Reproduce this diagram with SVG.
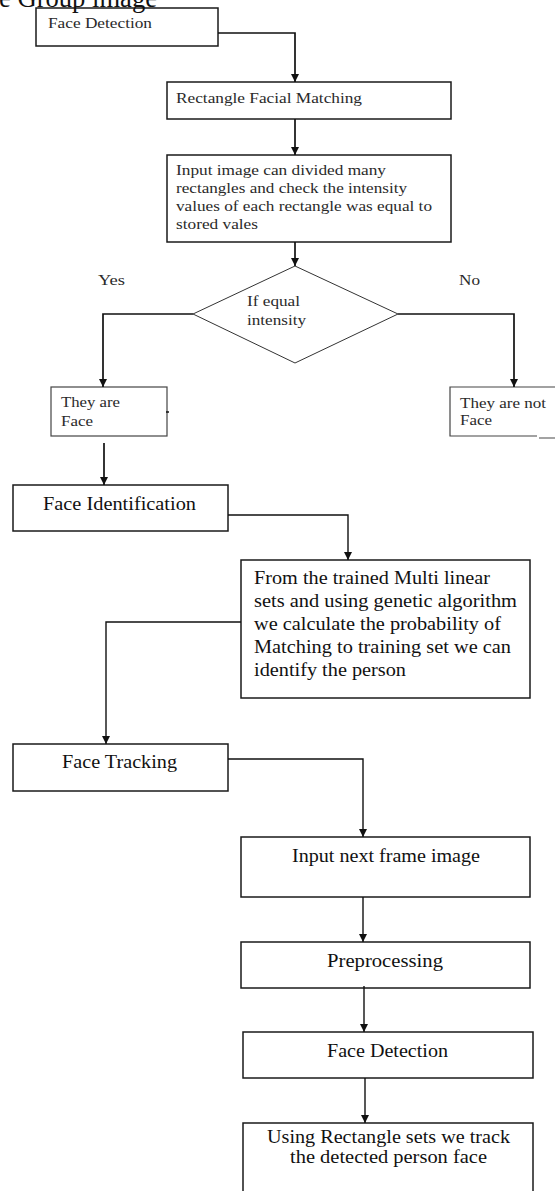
<svg xmlns="http://www.w3.org/2000/svg" width="555" height="1191" viewBox="0 0 555 1191">
<style>
.box{fill:#fff;stroke:#1a1a1a;stroke-width:1.5}
.dia{fill:#fff;stroke:#333;stroke-width:1}
.t{font-family:"Liberation Serif","Times New Roman",serif;fill:#111}
.s{font-size:14px;fill:#2a2a2a}
.m{font-size:19px}
.conn{fill:none;stroke:#111;stroke-width:1.7}
</style>
<defs>
<marker id="ah" markerUnits="userSpaceOnUse" markerWidth="8" markerHeight="8" refX="8" refY="4" orient="auto">
<path d="M0,0 L8,4 L0,8 z" fill="#111"/>
</marker>
</defs>
<rect width="555" height="1191" fill="#fff"/>

<g id="n-facedetect1">
<rect class="box" x="36" y="8" width="182" height="38"/>
<text class="t s" x="48" y="28" textLength="104" lengthAdjust="spacingAndGlyphs">Face Detection</text>
</g>
<text id="title" class="t" x="-1" y="7" font-size="28" textLength="158" lengthAdjust="spacingAndGlyphs">e Group image</text>

<g id="n-rectmatch">
<rect class="box" x="167" y="82" width="284" height="37"/>
<text class="t s" x="176" y="103" textLength="186" lengthAdjust="spacingAndGlyphs">Rectangle Facial Matching</text>
</g>

<g id="n-input">
<rect class="box" x="167" y="155" width="284" height="87"/>
<text class="t s" x="176" y="175" textLength="210" lengthAdjust="spacingAndGlyphs">Input image can divided many</text>
<text class="t s" x="176" y="193" textLength="231" lengthAdjust="spacingAndGlyphs">rectangles and check the intensity</text>
<text class="t s" x="176" y="211" textLength="256" lengthAdjust="spacingAndGlyphs">values of each rectangle was equal to</text>
<text class="t s" x="176" y="229" textLength="82" lengthAdjust="spacingAndGlyphs">stored vales</text>
</g>

<g id="n-decision">
<polygon class="dia" points="295,266 398,314 295,363 193,314"/>
<text class="t s" x="247" y="306" font-size="13" textLength="53" lengthAdjust="spacingAndGlyphs">If equal</text>
<text class="t s" x="247" y="325" font-size="13" textLength="59" lengthAdjust="spacingAndGlyphs">intensity</text>
</g>

<g id="labels">
<text class="t s" x="98" y="285" textLength="27" lengthAdjust="spacingAndGlyphs">Yes</text>
<text class="t s" x="459" y="285" textLength="21" lengthAdjust="spacingAndGlyphs">No</text>
</g>

<g id="n-face">
<rect class="box" x="51" y="387" width="116" height="49" style="stroke:#444;stroke-width:1.2"/>
<line x1="166" y1="412" x2="169" y2="412" stroke="#111" stroke-width="1.5"/>
<text class="t s" x="61" y="407" textLength="59" lengthAdjust="spacingAndGlyphs">They are</text>
<text class="t s" x="61" y="426" textLength="32" lengthAdjust="spacingAndGlyphs">Face</text>
</g>

<g id="n-notface">
<path d="M560,387 H450 V436 H537" fill="none" stroke="#444" stroke-width="1.2"/>
<line x1="539" y1="438" x2="555" y2="438" stroke="#666" stroke-width="1.2"/>
<text class="t s" x="460" y="408" textLength="86" lengthAdjust="spacingAndGlyphs">They are not</text>
<text class="t s" x="460" y="425" textLength="32" lengthAdjust="spacingAndGlyphs">Face</text>
</g>

<g id="n-faceident">
<rect class="box" x="13" y="485" width="215" height="46"/>
<text class="t m" x="43" y="510" textLength="153" lengthAdjust="spacingAndGlyphs">Face Identification</text>
</g>

<g id="n-trained">
<rect class="box" x="241" y="560" width="289" height="138"/>
<text class="t m" x="254" y="584" textLength="236" lengthAdjust="spacingAndGlyphs">From the trained Multi linear</text>
<text class="t m" x="254" y="607" textLength="263" lengthAdjust="spacingAndGlyphs">sets and using genetic algorithm</text>
<text class="t m" x="254" y="630" textLength="247" lengthAdjust="spacingAndGlyphs">we calculate the probability of</text>
<text class="t m" x="254" y="653" textLength="257" lengthAdjust="spacingAndGlyphs">Matching to training set we can</text>
<text class="t m" x="254" y="676" textLength="152" lengthAdjust="spacingAndGlyphs">identify the person</text>
</g>

<g id="n-tracking">
<rect class="box" x="13" y="744" width="215" height="47"/>
<text class="t m" x="62" y="768" textLength="115" lengthAdjust="spacingAndGlyphs">Face Tracking</text>
</g>

<g id="n-nextframe">
<rect class="box" x="241" y="837" width="289" height="60"/>
<text class="t m" x="292" y="862" textLength="188" lengthAdjust="spacingAndGlyphs">Input next  frame image</text>
</g>

<g id="n-preproc">
<rect class="box" x="241" y="942" width="289" height="46"/>
<text class="t m" x="327" y="967" textLength="116" lengthAdjust="spacingAndGlyphs">Preprocessing</text>
</g>

<g id="n-facedetect2">
<rect class="box" x="243" y="1032" width="290" height="46"/>
<text class="t m" x="327" y="1057" textLength="121" lengthAdjust="spacingAndGlyphs">Face Detection</text>
</g>

<g id="n-track">
<rect class="box" x="243" y="1123" width="290" height="100"/>
<text class="t m" x="267" y="1143" textLength="243" lengthAdjust="spacingAndGlyphs">Using Rectangle sets we track</text>
<text class="t m" x="290" y="1163" textLength="197" lengthAdjust="spacingAndGlyphs">the detected person face</text>
</g>

<g id="connectors">
<path class="conn" d="M218,33 H295 V82" marker-end="url(#ah)"/>
<path class="conn" d="M295,119 V155" marker-end="url(#ah)"/>
<path class="conn" d="M295,242 V266" marker-end="url(#ah)"/>
<path class="conn" d="M193,314 H103 V387" marker-end="url(#ah)"/>
<path class="conn" d="M398,314 H514 V387" marker-end="url(#ah)"/>
<path class="conn" d="M104,443 V485" marker-end="url(#ah)"/>
<path class="conn" d="M228,515 H348 V560" marker-end="url(#ah)" style="stroke-width:1.4"/>
<path class="conn" d="M241,622 H106 V744" marker-end="url(#ah)" style="stroke-width:1.4"/>
<path class="conn" d="M228,759 H363 V837" marker-end="url(#ah)" style="stroke-width:1.4"/>
<path class="conn" d="M363,897 V942" marker-end="url(#ah)" style="stroke-width:1.4"/>
<path class="conn" d="M364,986 V1032" marker-end="url(#ah)" style="stroke-width:1.4"/>
<path class="conn" d="M365,1078 V1123" marker-end="url(#ah)" style="stroke-width:1.4"/>
</g>
</svg>
